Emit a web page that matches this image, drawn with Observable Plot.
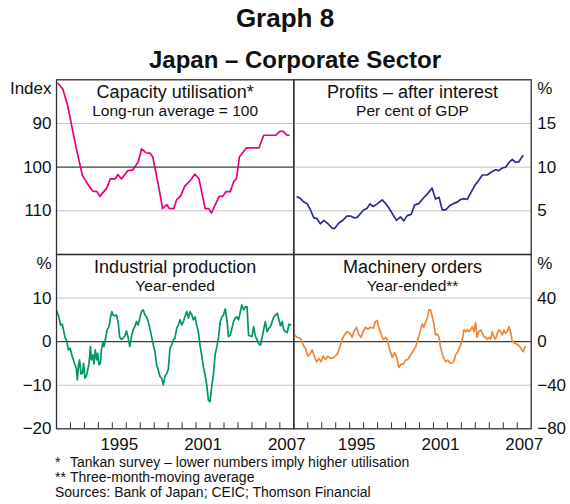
<!DOCTYPE html>
<html><head><meta charset="utf-8">
<script src="https://cdn.jsdelivr.net/npm/d3@7"></script>
<script src="https://cdn.jsdelivr.net/npm/@observablehq/plot@0.6"></script>
<style>
body{margin:0;background:#fff;}
#chart{position:relative;width:570px;height:504px;font-family:"Liberation Sans",Arial,sans-serif;color:#111;overflow:hidden;background:#fff}
#chart svg{position:absolute;left:0;top:0}
.t{position:absolute;white-space:nowrap;line-height:1}
</style></head><body><div id="chart"></div>
<script>
// ---------- Data (decimal year, value) ----------
const capacityUtilisation = [
[1991.1,80.8],[1991.45,82.1],[1991.8,85.9],[1992.2,92.3],[1992.5,96.9],[1992.85,101.8],[1993.2,103.7],[1993.6,105.5],[1993.9,105.6],[1994.1,106.7],[1994.6,104.8],[1994.85,102.7],[1995.2,102.7],[1995.4,101.7],[1995.65,102.7],[1996.1,100.8],[1996.45,100.7],[1996.85,98.8],[1997.1,95.8],[1997.4,96.7],[1997.7,96.8],[1997.9,97.7],[1998.3,104.1],[1998.6,109.5],[1998.9,108.6],[1999.1,109.5],[1999.4,109.5],[1999.6,107.5],[1999.9,106.5],[2000.2,104.3],[2000.55,103.2],[2000.9,101.6],[2001.2,102.6],[2001.65,109.5],[2001.9,109.5],[2002.1,110.5],[2002.65,106.7],[2002.9,106.7],[2003.15,105.6],[2003.45,105.6],[2003.7,103.3],[2003.9,102.6],[2004.1,97.7],[2004.6,95.6],[2005.5,95.6],[2005.85,92.7],[2006.7,92.7],[2007.0,91.8],[2007.25,91.8],[2007.5,92.7],[2007.65,92.7]
];
const profitsAfterInterest = [
[1991.24,6.6],[1991.48,6.4],[1991.72,6.0],[1991.96,5.8],[1992.2,5.1],[1992.43,4.2],[1992.67,4.1],[1992.9,3.5],[1993.15,3.9],[1993.43,3.55],[1993.75,3.0],[1993.94,3.0],[1994.22,3.6],[1994.5,3.9],[1994.8,4.4],[1995.06,4.4],[1995.3,4.2],[1995.54,4.25],[1995.78,4.7],[1996.0,5.1],[1996.25,5.3],[1996.45,5.8],[1996.69,5.5],[1996.97,5.8],[1997.33,6.25],[1997.57,5.85],[1997.8,5.35],[1998.05,4.7],[1998.35,3.9],[1998.64,4.3],[1998.88,3.85],[1999.12,4.45],[1999.41,4.6],[1999.65,5.65],[1999.96,5.85],[2000.3,6.5],[2000.6,7.0],[2000.9,7.6],[2001.15,6.35],[2001.4,6.55],[2001.63,5.1],[2001.87,5.1],[2002.18,5.6],[2002.46,5.85],[2002.7,6.0],[2002.94,6.3],[2003.17,6.4],[2003.42,6.3],[2003.7,7.15],[2004.0,8.0],[2004.25,8.5],[2004.5,9.1],[2004.85,9.1],[2005.21,9.5],[2005.45,9.7],[2005.68,9.6],[2005.93,9.9],[2006.17,10.0],[2006.4,10.5],[2006.64,10.9],[2006.88,10.55],[2007.1,10.6],[2007.4,11.3]
];
const industrialProduction = [
[1991.02,7.0],[1991.17,5.7],[1991.29,3.8],[1991.41,4.0],[1991.5,2.7],[1991.62,0.8],[1991.74,0.2],[1991.84,-1.9],[1991.98,-1.5],[1992.13,-3.4],[1992.29,-5.0],[1992.42,-6.1],[1992.49,-8.8],[1992.58,-5.4],[1992.65,-4.2],[1992.75,-7.4],[1992.85,-7.3],[1992.94,-5.0],[1993.04,-8.4],[1993.14,-7.9],[1993.26,-6.1],[1993.33,-5.0],[1993.43,-1.15],[1993.5,-4.2],[1993.61,-3.05],[1993.68,-5.1],[1993.78,-1.9],[1993.88,-4.2],[1993.95,-2.7],[1994.04,-5.3],[1994.14,-5.0],[1994.22,-1.9],[1994.33,0],[1994.4,-1.15],[1994.53,1.0],[1994.62,2.7],[1994.76,3.45],[1994.86,5.4],[1994.96,6.9],[1995.05,6.15],[1995.17,5.9],[1995.29,6.15],[1995.41,4.6],[1995.53,1.0],[1995.65,0.5],[1995.77,0.8],[1995.9,1.3],[1996.01,2.45],[1996.13,1.0],[1996.25,-1.15],[1996.37,1.15],[1996.49,2.7],[1996.61,3.45],[1996.73,4.6],[1996.85,3.8],[1996.97,5.4],[1997.09,6.9],[1997.21,7.3],[1997.33,6.15],[1997.45,5.7],[1997.57,4.6],[1997.69,3.05],[1997.81,1.15],[1997.94,-0.8],[1998.05,-2.3],[1998.18,-5.4],[1998.29,-6.5],[1998.41,-8.0],[1998.53,-8.4],[1998.65,-9.9],[1998.77,-7.9],[1998.89,-7.4],[1999.01,-6.3],[1999.13,-1.5],[1999.25,-0.8],[1999.37,0.4],[1999.49,0.8],[1999.61,3.05],[1999.73,3.8],[1999.85,5.0],[1999.97,3.8],[2000.09,4.6],[2000.2,5.7],[2000.33,6.9],[2000.45,5.4],[2000.57,6.9],[2000.69,6.15],[2000.8,5.0],[2000.93,5.7],[2001.04,3.8],[2001.16,2.3],[2001.28,-0.8],[2001.4,-3.05],[2001.52,-5.75],[2001.64,-7.6],[2001.76,-9.9],[2001.88,-13.4],[2002.0,-13.8],[2002.12,-10.3],[2002.24,-7.6],[2002.36,-3.05],[2002.49,-1.15],[2002.6,0.8],[2002.73,4.6],[2002.85,5.7],[2002.96,6.1],[2003.09,7.5],[2003.21,5.0],[2003.32,1.15],[2003.45,1.5],[2003.57,3.05],[2003.68,4.6],[2003.8,5.4],[2003.93,5.7],[2004.04,5.0],[2004.17,6.9],[2004.28,8.4],[2004.4,7.3],[2004.53,8.0],[2004.65,8.0],[2004.76,1.5],[2004.89,1.3],[2005.0,1.15],[2005.12,3.45],[2005.24,1.3],[2005.37,0.4],[2005.48,-0.5],[2005.61,-0.8],[2005.72,0.8],[2005.84,2.7],[2005.96,4.6],[2006.09,2.3],[2006.2,3.05],[2006.33,3.45],[2006.45,4.6],[2006.57,5.7],[2006.69,6.1],[2006.82,6.5],[2006.93,5.1],[2007.05,3.6],[2007.17,4.6],[2007.28,2.7],[2007.4,2.3],[2007.53,2.1],[2007.65,4.0],[2007.77,3.8]
];
const machineryOrders = [
[1991.05,6.2],[1991.24,4.0],[1991.48,3.1],[1991.67,-3.1],[1991.84,-6.2],[1992.0,-13.2],[1992.15,-11.4],[1992.32,-7.7],[1992.48,-13.8],[1992.63,-18.5],[1992.79,-15.4],[1992.96,-18.5],[1993.1,-13.2],[1993.27,-16.3],[1993.44,-13.2],[1993.63,-15.4],[1993.87,-14.5],[1994.11,-11.4],[1994.3,-5.2],[1994.47,2.2],[1994.63,6.2],[1994.83,9.2],[1995.01,7.7],[1995.18,4.0],[1995.3,9.2],[1995.49,13.2],[1995.66,6.2],[1995.83,4.0],[1995.97,9.2],[1996.14,13.2],[1996.3,11.4],[1996.49,13.2],[1996.69,12.3],[1996.85,18.5],[1996.97,19.4],[1997.09,13.2],[1997.26,6.2],[1997.4,2.2],[1997.57,4.0],[1997.69,1.5],[1997.88,-7.7],[1998.05,-14.5],[1998.21,-10.2],[1998.36,-13.8],[1998.52,-23.7],[1998.69,-20.6],[1998.84,-20.6],[1999.0,-16.9],[1999.17,-16.3],[1999.36,-12.3],[1999.55,-8.3],[1999.72,-5.2],[1999.89,2.2],[2000.08,10.8],[2000.2,16.3],[2000.31,13.2],[2000.43,17.5],[2000.56,21.5],[2000.67,29.2],[2000.79,29.2],[2000.91,23.1],[2001.03,16.3],[2001.15,6.2],[2001.27,7.1],[2001.39,4.6],[2001.5,-4.6],[2001.67,-13.2],[2001.87,-18.5],[2002.03,-16.9],[2002.18,-19.4],[2002.35,-19.4],[2002.46,-18.5],[2002.58,-12.3],[2002.75,-9.2],[2002.94,-3.1],[2003.06,1.5],[2003.18,10.8],[2003.3,9.2],[2003.42,10.8],[2003.54,9.2],[2003.66,10.8],[2003.78,13.8],[2003.9,9.2],[2004.02,17.5],[2004.13,4.0],[2004.25,9.2],[2004.37,10.8],[2004.49,8.3],[2004.61,4.6],[2004.73,4.0],[2004.85,2.2],[2004.97,4.0],[2005.09,2.2],[2005.21,9.2],[2005.32,4.6],[2005.44,2.2],[2005.56,7.1],[2005.68,10.8],[2005.81,9.2],[2005.93,6.2],[2006.04,10.8],[2006.16,7.7],[2006.28,9.2],[2006.4,13.8],[2006.52,9.2],[2006.64,0.9],[2006.76,-0.9],[2006.88,-1.5],[2007.05,-3.1],[2007.19,-4.6],[2007.31,-7.1],[2007.43,-9.2],[2007.55,-4.6]
];

// ---------- Ticks & labels ----------
const xDomain = [1991, 2008];
const yearTicks = [1992,1993,1994,1995,1996,1997,1998,1999,2000,2001,2002,2003,2004,2005,2006,2007];
const xLabelYears = [1995, 2001, 2007];
const capTicks = [90, 100, 110], capDomain = [80, 120];
const profTicks = [5, 10, 15], profDomain = [0, 20];
const ipTicks = [-20, -10, 0, 10], ipDomain = [-20, 20];
const moTicks = [-80, -40, 0, 40], moDomain = [-80, 80];

const titles = ["Capacity utilisation*", "Profits – after interest", "Industrial production", "Machinery orders"];
const subtitles = ["Long-run average = 100", "Per cent of GDP", "Year-ended", "Year-ended**"];
const units = ["Index", "%", "%", "%"];
const colors = ["#e5007d", "#2b2d8e", "#00975a", "#f08536"];

// ---------- Layout ----------
const W = 570, H = 504;
const L = 56, R = 530.7, T = 79.3, B = 428.3, MX = 293.3, MY = 254;
const TICK = 6;
const FONT = '"Liberation Sans", Arial, sans-serif';

function panel(i, col, row, series, domain, ticks, zero, reverse) {
  const left = col === 0 ? L : MX, right = col === 0 ? MX : R;
  const top = row === 0 ? T : MY, bottom = row === 0 ? MY : B;
  const grid = ticks.filter(d => d !== zero && d !== domain[0] && d !== domain[1]);
  const marks = [
    Plot.ruleY(grid, {stroke: "#c2c5cc", strokeWidth: 1}),
    Plot.ruleY([zero], {stroke: "#3c3c3c", strokeWidth: 1.3}),
    Plot.line(series, {x: d => d[0], y: d => d[1], stroke: colors[i], strokeWidth: 1.7, curve: "linear"}),
    Plot.frame({stroke: "#2e2e2e", strokeWidth: 1.3}),
    Plot.axisY(ticks, {anchor: col === 0 ? "left" : "right", tickSize: 0, tickPadding: col === 0 ? 5 : 6, fontSize: 17, fill: "#111"}),
    Plot.text([units[i]], {text: d => d, frameAnchor: col === 0 ? "top-left" : "top-right", textAnchor: col === 0 ? "end" : "start", dx: col === 0 ? -5 : 6, dy: 9, lineAnchor: "middle", fontSize: 17, fill: "#111"}),
    Plot.text([titles[i]], {text: d => d, frameAnchor: "top", lineAnchor: "bottom", dy: 18.4, fontSize: 18, fill: "#111"}),
    Plot.text([subtitles[i]], {text: d => d, frameAnchor: "top", lineAnchor: "bottom", dy: 36.4, fontSize: 15.5, fill: "#111"})
  ];
  if (row === 1) {
    // inward year ticks along the bottom edge
    marks.push(Plot.ruleX(yearTicks, {x: d => d, stroke: "#333", strokeWidth: 1, insetTop: (bottom - top) - TICK}));
    marks.push(Plot.axisX(xLabelYears.map(y => y + 0.5), {anchor: "bottom", tickSize: 0, tickPadding: 9.5, tickFormat: d => String(Math.floor(d)), fontSize: 17, fill: "#111"}));
  }
  return Plot.plot({
    width: W, height: H,
    marginLeft: left, marginRight: W - right, marginTop: top, marginBottom: H - bottom,
    x: {domain: xDomain, axis: row === 1 ? undefined : null},
    y: {domain, reverse: !!reverse},
    style: {background: "transparent", fontFamily: FONT, overflow: "visible"},
    marks
  });
}

const chart = document.getElementById("chart");
chart.append(
  panel(0, 0, 0, capacityUtilisation, capDomain, capTicks, 100, true),
  panel(1, 1, 0, profitsAfterInterest, profDomain, profTicks, null, false),
  panel(2, 0, 1, industrialProduction, ipDomain, ipTicks, 0, false),
  panel(3, 1, 1, machineryOrders, moDomain, moTicks, 0, false)
);

function addText(txt, {left, top, size, bold, center}) {
  const d = document.createElement("div");
  d.className = "t";
  d.textContent = txt;
  d.style.fontSize = size + "px";
  d.style.top = top + "px";
  if (bold) d.style.fontWeight = "bold";
  if (center) { d.style.left = center + "px"; d.style.transform = "translateX(-50%)"; }
  else d.style.left = left + "px";
  chart.append(d);
}
const mainTitle = "Graph 8";
const subTitle = "Japan – Corporate Sector";
const notes = [["*", "Tankan survey – lower numbers imply higher utilisation"], ["**", "Three-month-moving average"]];
const sources = "Sources: Bank of Japan; CEIC; Thomson Financial";
addText(mainTitle, {center: 285, top: 27 - 0.8465 * 26, size: 26, bold: true});
addText(subTitle, {center: 295, top: 68 - 0.8465 * 24, size: 24, bold: true});
notes.forEach(([m, t], k) => {
  const base = 467.2 + k * 15.1;
  addText(m, {left: 55, top: base - 0.8465 * 14, size: 14});
  addText(t, {left: 70, top: base - 0.8465 * 14, size: 14});
});
addText(sources, {left: 55, top: 497.3 - 0.8465 * 14, size: 14});
</script></body></html>
